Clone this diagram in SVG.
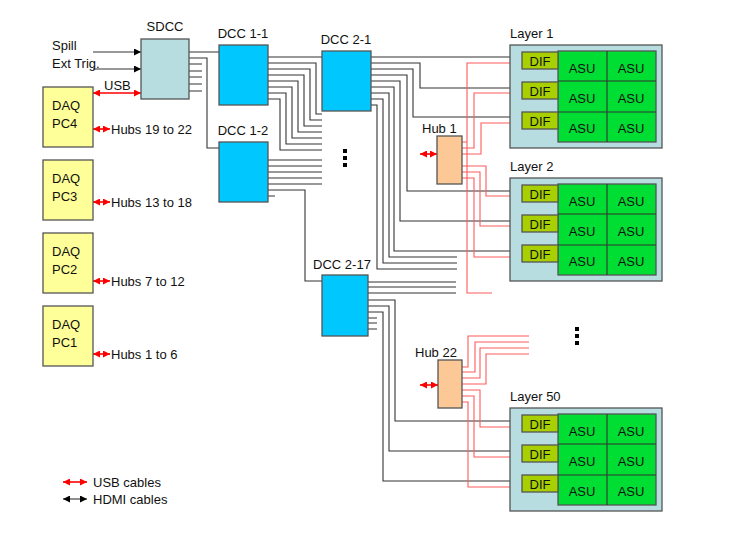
<svg xmlns="http://www.w3.org/2000/svg" width="729" height="549" viewBox="0 0 729 549">
<style>
text{font-family:"Liberation Sans",Arial,sans-serif;font-size:13px;fill:#111}
.box{stroke:#555;stroke-width:1.3}
.dcc{fill:#00c8ff}
.daq{fill:#ffff99}
.hub{fill:#fcc896}
.lay{fill:#b8dde1}
.dif{fill:#a8d000}
.asu{fill:#00dd33}
.k{fill:none;stroke:#333;stroke-width:1.1}
.r{fill:none;stroke:#ff5a5a;stroke-width:1.1}
.ru{fill:none;stroke:#ff0000;stroke-width:1.6}
.c{text-anchor:middle}
</style>
<defs>
<marker id="ak" viewBox="0 0 10 10" refX="10" refY="5" markerWidth="7" markerHeight="7" markerUnits="userSpaceOnUse" orient="auto-start-reverse"><path d="M0,0L10,5L0,10z" fill="#000"/></marker>
<marker id="ar" viewBox="0 0 10 10" refX="10" refY="5" markerWidth="7" markerHeight="7" markerUnits="userSpaceOnUse" orient="auto-start-reverse"><path d="M0,0L10,5L0,10z" fill="#ff0000"/></marker>
<g id="layer">
<rect class="box lay" x="0" y="0" width="152" height="103"/>
<rect class="box asu" x="48" y="6" width="98" height="91"/>
<path class="k" d="M97,6V97M48,36H146M48,67H146"/>
<rect class="box dif" x="12" y="7" width="36" height="17"/>
<rect class="box dif" x="12" y="37" width="36" height="17"/>
<rect class="box dif" x="12" y="67" width="36" height="17"/>
<text class="c" x="30" y="21">DIF</text><text class="c" x="30" y="51">DIF</text><text class="c" x="30" y="81">DIF</text>
<text class="c" x="72" y="28">ASU</text><text class="c" x="121" y="28">ASU</text>
<text class="c" x="72" y="58">ASU</text><text class="c" x="121" y="58">ASU</text>
<text class="c" x="72" y="88">ASU</text><text class="c" x="121" y="88">ASU</text>
</g>
</defs>
<g id="connectors">
<line class="k" x1="93" y1="52" x2="141" y2="52" marker-end="url(#ak)"/>
<line class="k" x1="93" y1="69" x2="141" y2="69" marker-end="url(#ak)"/>
<line class="ru" x1="93" y1="93" x2="141" y2="93" marker-start="url(#ar)" marker-end="url(#ar)"/>
<line class="ru" x1="93" y1="129" x2="110" y2="129" marker-start="url(#ar)" marker-end="url(#ar)"/>
<line class="ru" x1="93" y1="202" x2="110" y2="202" marker-start="url(#ar)" marker-end="url(#ar)"/>
<line class="ru" x1="93" y1="281" x2="110" y2="281" marker-start="url(#ar)" marker-end="url(#ar)"/>
<line class="ru" x1="93" y1="354" x2="110" y2="354" marker-start="url(#ar)" marker-end="url(#ar)"/>
<line class="ru" x1="420" y1="154" x2="437" y2="154" marker-start="url(#ar)" marker-end="url(#ar)"/>
<line class="ru" x1="420" y1="385" x2="438" y2="385" marker-start="url(#ar)" marker-end="url(#ar)"/>
<line class="ru" x1="63" y1="482" x2="87" y2="482" marker-start="url(#ar)" marker-end="url(#ar)"/>
<line class="k" x1="63" y1="499" x2="87" y2="499" marker-start="url(#ak)" marker-end="url(#ak)"/>
<!-- SDCC outputs -->
<path class="k" d="M189,52H219M189,58H207V148H219M189,64H202M189,71H202M189,77H202M189,84H202M189,91H202"/>
<!-- DCC1-1 outputs -->
<path class="k" d="M268,57H323M268,63H316V114H322M268,69H310V120H322M268,75H304V126H322M268,81H298V132H322M268,87H292V138H322M268,93H286V144H322M268,99H280V150H322"/>
<!-- DCC1-2 outputs -->
<path class="k" d="M268,160H322M268,166H322M268,172H322M268,178H322M268,184H322M268,190H305V281H322M268,196H275"/>
<!-- DCC2-1 outputs -->
<path class="k" d="M371,57H522M371,63H420V88H522M371,69H413V117H522M371,75H407V191H522M371,81H400V221H522M371,87H394V251H522M371,93H389V257H457M371,99H383V263H457M371,105H377V269H457"/>
<!-- DCC2-17 outputs -->
<path class="k" d="M368,282H456M368,287H456M368,293H456M368,300H395V421H522M368,306H389V451H522M368,312H383V481H522M368,318H377M368,323H377M368,329H377"/>
<!-- Hub1 outputs -->
<path class="r" d="M462,142H467V63H522M467,142V293H492M462,148H474V93H522M462,154H481V123H522M462,166H486V196H522M462,172H480V226H522M462,178H474V257H522"/>
<!-- Hub22 outputs -->
<path class="r" d="M462,367H468V336H529M462,372H475V342H529M462,378H480V348H529M462,384H486V354H529M462,390H480V427H522M462,396H474V457H522M462,402H468V487H522"/>
</g>
<g id="sdcc"><rect class="box" fill="#b8dde1" x="141" y="39" width="48" height="60"/><text class="c" x="165" y="31">SDCC</text></g>
<g id="labels-in"><text x="52" y="50">Spill</text><text x="52" y="68">Ext Trig.</text><text x="104" y="90">USB</text></g>
<g id="daq4"><rect class="box daq" x="43" y="87" width="50" height="60"/><text x="52" y="110">DAQ</text><text x="52" y="128">PC4</text><text x="111" y="134">Hubs 19 to 22</text></g>
<g id="daq3"><rect class="box daq" x="43" y="160" width="50" height="60"/><text x="52" y="183">DAQ</text><text x="52" y="201">PC3</text><text x="111" y="207">Hubs 13 to 18</text></g>
<g id="daq2"><rect class="box daq" x="43" y="233" width="50" height="60"/><text x="52" y="256">DAQ</text><text x="52" y="274">PC2</text><text x="111" y="286">Hubs 7 to 12</text></g>
<g id="daq1"><rect class="box daq" x="43" y="306" width="50" height="60"/><text x="52" y="329">DAQ</text><text x="52" y="347">PC1</text><text x="111" y="359">Hubs 1 to 6</text></g>
<g id="dcc11"><rect class="box dcc" x="219" y="45" width="49" height="60"/><text class="c" x="243" y="38">DCC 1-1</text></g>
<g id="dcc12"><rect class="box dcc" x="219" y="142" width="49" height="60"/><text class="c" x="243" y="135">DCC 1-2</text></g>
<g id="dcc21"><rect class="box dcc" x="322" y="51" width="49" height="60"/><text class="c" x="346" y="44">DCC 2-1</text></g>
<g id="dcc217"><rect class="box dcc" x="322" y="275" width="46" height="61"/><text class="c" x="342" y="269">DCC 2-17</text></g>
<g id="hub1"><rect class="box hub" x="437" y="136" width="25" height="48"/><text x="422" y="133">Hub 1</text></g>
<g id="hub22"><rect class="box hub" x="438" y="360" width="24" height="48"/><text x="415" y="357">Hub 22</text></g>
<g id="layer1"><use href="#layer" x="510" y="45"/><text x="510" y="38">Layer 1</text></g>
<g id="layer2"><use href="#layer" x="510" y="178"/><text x="510" y="171">Layer 2</text></g>
<g id="layer50"><use href="#layer" x="510" y="408"/><text x="510" y="401">Layer 50</text></g>
<g id="dots" fill="#000"><rect x="343" y="149" width="4" height="4"/><rect x="343" y="156" width="4" height="4"/><rect x="343" y="163" width="4" height="4"/><rect x="575" y="327" width="4" height="4"/><rect x="575" y="334" width="4" height="4"/><rect x="575" y="341" width="4" height="4"/></g>
<g id="legend"><text x="93" y="487">USB cables</text><text x="93" y="504">HDMI cables</text></g>
</svg>
